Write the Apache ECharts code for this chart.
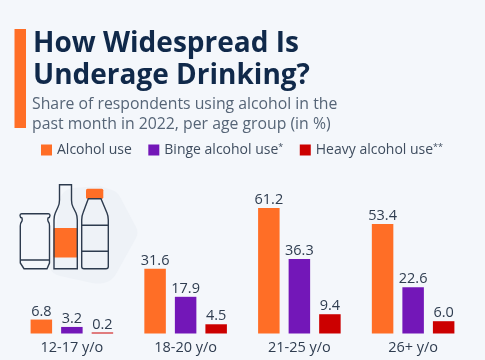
<!DOCTYPE html>
<html>
<head>
<meta charset="utf-8">
<style>
  html, body { margin: 0; padding: 0; background: #f4f7fb; }
  #chart { width: 485px; height: 360px; }
</style>
<script src="https://cdn.jsdelivr.net/npm/echarts@6/dist/echarts.min.js"></script>
</head>
<body>
<div id="chart"></div>
<script>
const categories = ['12-17 y/o', '18-20 y/o', '21-25 y/o', '26+ y/o']
const alcoholUse = [6.8, 31.6, 61.2, 53.4]
const bingeUse = [3.2, 17.9, 36.3, 22.6]
const heavyUse = [0.2, 4.5, 9.4, 6.0]

const font = '"Open Sans"'
const inkColor = '#2f3d50'
const iconColor = '#2d3b4e'

function barSeries(name, data, color) {
  return {
    type: 'bar',
    name: name,
    data: data,
    barWidth: 21.5,
    barGap: '42%',
    barMinHeight: 1, // keeps the 0.2 bar visible
    itemStyle: { color: color },
    label: {
      show: true,
      position: 'top',
      distance: 0.5,
      color: inkColor,
      fontFamily: font,
      fontSize: 14.5,
      formatter: p => p.value.toFixed(1)
    }
  }
}

// the graphic component has no plain "path" type, so each icon part is registered as a shape
function iconPath(name, pathData, fill, stroke) {
  echarts.graphic.registerShape(name, echarts.graphic.extendPath(pathData, {}))
  return { type: name, style: { fill: fill, stroke: stroke, lineWidth: 1.4 } }
}

const chart = echarts.init(document.getElementById('chart'))

chart.setOption({
  backgroundColor: '#f4f7fb',
  animation: false,
  title: [
    {
      text: 'How Widespread Is\nUnderage Drinking?',
      left: 28,
      top: 23,
      textStyle: { color: '#10294a', fontFamily: font, fontWeight: 'bold', fontSize: 28, lineHeight: 32 }
    },
    {
      text: 'Share of respondents using alcohol in the\npast month in 2022, per age group (in %)',
      left: 27,
      top: 89,
      textStyle: { color: '#566577', fontFamily: font, fontWeight: 'normal', fontSize: 15.8, lineHeight: 20 }
    }
  ],
  legend: {
    left: 36,
    top: 138,
    icon: 'rect',
    itemWidth: 11,
    itemHeight: 11,
    itemGap: 16.5,
    selectedMode: false,
    formatter: name => {
      if (name === 'Binge alcohol use') return name + '{sup|*}'
      if (name === 'Heavy alcohol use') return name + '{sup|**}'
      return name
    },
    textStyle: {
      color: '#3f4d5f',
      fontFamily: font,
      fontSize: 14,
      rich: {
        sup: { fontFamily: font, fontSize: 9, color: '#3f4d5f', verticalAlign: 'top', padding: [0, 0, 5, 0] }
      }
    }
  },
  grid: { left: 15, right: 15, top: 190, height: 143.5 },
  xAxis: {
    type: 'category',
    data: categories,
    axisLine: { show: false },
    axisTick: { show: false },
    axisLabel: { color: inkColor, fontFamily: font, fontSize: 14.5, margin: 7 }
  },
  yAxis: { type: 'value', min: 0, max: 70, show: false },
  series: [
    barSeries('Alcohol use', alcoholUse, '#ff6e26'),
    barSeries('Binge alcohol use', bingeUse, '#7317b8'),
    barSeries('Heavy alcohol use', heavyUse, '#cc0000')
  ],
  graphic: [
    // accent bar next to the title
    { type: 'rect', shape: { x: 14.5, y: 29, width: 11.5, height: 99 }, style: { fill: '#ff6e26' } },
    // blob behind the bottles
    Object.assign(iconPath('blob', 'M100 186 L112 190 Q116 191 119 195 L136 227 Q139 233 136 238 L116 274 Q112 281 104 283 Q98 284 92 283 L60 276 Q52 274 50 268 L60 200 Q62 190 72 188 Z', '#eef2f7', 'none'), { z: -1 }),
    // orange label and cap
    { type: 'rect', shape: { x: 53.5, y: 228, width: 24, height: 29.5, r: 1 }, style: { fill: '#ff6e26' } },
    { type: 'rect', shape: { x: 86, y: 188.7, width: 17.3, height: 10, r: 1.5 }, style: { fill: '#ff6e26' } },
    // jar
    iconPath('jar', 'M21.5 213.7 L48.5 213.7 Q50 213.7 50 215.5 Q50 217.5 48 218 Q47.5 220 48 221 Q49.5 223 49.5 226 L49.5 263 L47 268.7 L24 268.7 L20.3 263 L20.3 226 Q20.3 223 22 221 Q22.5 220 22 218 Q20 217.5 20 215.5 Q20 213.7 21.5 213.7 Z M20.3 260 L49.5 260', 'none', iconColor),
    // glass bottle
    iconPath('glassBottle', 'M59.5 184.7 L71.5 184.7 L71.5 200 Q71.5 204 73 207 L76 213 Q77.3 216 77.3 220 L77.3 268.7 L54 268.7 L54 220 Q54 216 55.3 213 L58 207 Q59.5 204 59.5 200 Z', 'none', iconColor),
    // plastic bottle
    iconPath('plasticBottle', 'M88.3 198.7 L101 198.7 L107 213 Q108.3 216 108.3 220 L108.3 266.5 Q108.3 268.7 106 268.7 L84 268.7 Q81.7 268.7 81.7 266.5 L81.7 220 Q81.7 216 83 213 Z M81.7 225.3 L108.3 225.3 M81.7 251.3 L108.3 251.3', 'none', iconColor)
  ]
})
</script>
</body>
</html>
